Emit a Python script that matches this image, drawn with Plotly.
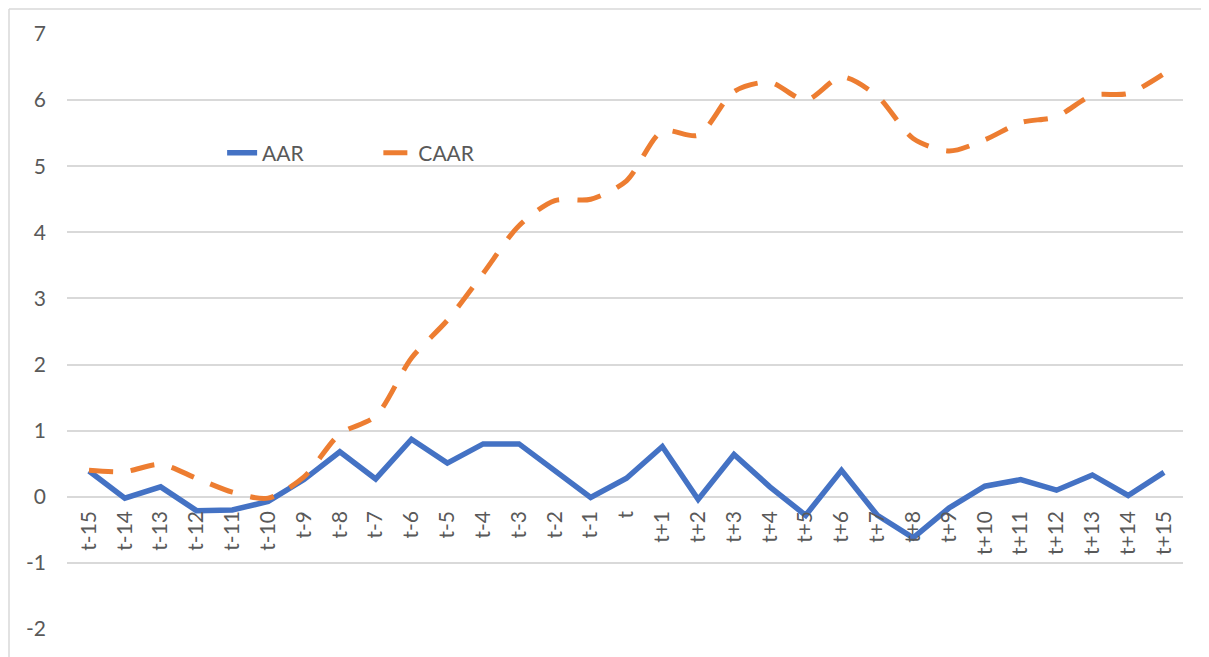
import plotly.graph_objects as go

categories = ["t-15", "t-14", "t-13", "t-12", "t-11", "t-10", "t-9", "t-8", "t-7", "t-6",
              "t-5", "t-4", "t-3", "t-2", "t-1", "t", "t+1", "t+2", "t+3", "t+4",
              "t+5", "t+6", "t+7", "t+8", "t+9", "t+10", "t+11", "t+12", "t+13", "t+14", "t+15"]

aar = [0.39, -0.02, 0.15, -0.21, -0.20, -0.07, 0.26, 0.68, 0.27, 0.87,
       0.51, 0.80, 0.80, 0.40, -0.01, 0.28, 0.76, -0.04, 0.64, 0.15,
       -0.28, 0.40, -0.28, -0.62, -0.17, 0.16, 0.26, 0.10, 0.33, 0.02, 0.37]

caar = [0.40, 0.38, 0.49, 0.28, 0.07, -0.02, 0.30, 0.95, 1.22, 2.10,
        2.67, 3.38, 4.10, 4.48, 4.50, 4.78, 5.53, 5.47, 6.13, 6.27,
        6.00, 6.35, 6.06, 5.42, 5.23, 5.40, 5.66, 5.75, 6.07, 6.10, 6.40]

y_ticks = [-2, -1, 0, 1, 2, 3, 4, 5, 6, 7]
y_labels = [str(v) for v in y_ticks]

BLUE = "#4472C4"
ORANGE = "#ED7D31"
GRID = "#D9D9D9"
TEXT = "#595959"
FONT = "Lato, 'Open Sans', sans-serif"

fig = go.Figure()
fig.add_trace(go.Scatter(x=categories, y=aar, mode="lines", name="AAR", legend="legend",
                         line=dict(color=BLUE, width=5.5)))
fig.add_trace(go.Scatter(x=categories, y=caar, mode="lines", name="CAAR", legend="legend2",
                         line=dict(color=ORANGE, width=5, dash="24px,18px",
                                   shape="spline", smoothing=0.8)))

ymin, ymax = y_ticks[0], y_ticks[-1]
legend_common = dict(orientation="h", y=0.80, xanchor="left", yanchor="middle",
                     bgcolor="rgba(0,0,0,0)", font=dict(size=21, color=TEXT), itemwidth=30)

bx = (1 - 59) / 1116          # chart-area border, left edge (paper units)
by = (595 + 26 - 1) / 595     # chart-area border, top edge (paper units)
border = dict(color=GRID, width=1.5)

fig.update_layout(
    width=1193, height=649,
    margin=dict(l=59, r=18, t=26, b=28),
    paper_bgcolor="white", plot_bgcolor="white",
    font=dict(family=FONT, size=21, color=TEXT),
    showlegend=True,
    legend=dict(x=0.139, **legend_common),
    legend2=dict(x=0.279, **legend_common),
    xaxis=dict(type="category", range=[-0.614, 30.53], showgrid=False, zeroline=False,
               showline=False, ticks="", tickangle=-90, anchor="free",
               position=(0 - ymin) / (ymax - ymin), ticklabelstandoff=9,
               tickfont=dict(size=21, color=TEXT)),
    yaxis=dict(range=[ymin, ymax], tickvals=y_ticks, ticktext=y_labels, showgrid=True,
               gridcolor=GRID, gridwidth=1.5, zeroline=False, showline=False, ticks="",
               ticklabelstandoff=20, tickfont=dict(size=21, color=TEXT)),
    shapes=[
        dict(type="line", xref="paper", yref="paper", x0=bx, x1=1.3, y0=by, y1=by,
             line=border, layer="below"),
        dict(type="line", xref="paper", yref="paper", x0=bx, x1=bx, y0=-0.3, y1=by,
             line=border, layer="below"),
    ],
)

fig.write_html("out.html")
